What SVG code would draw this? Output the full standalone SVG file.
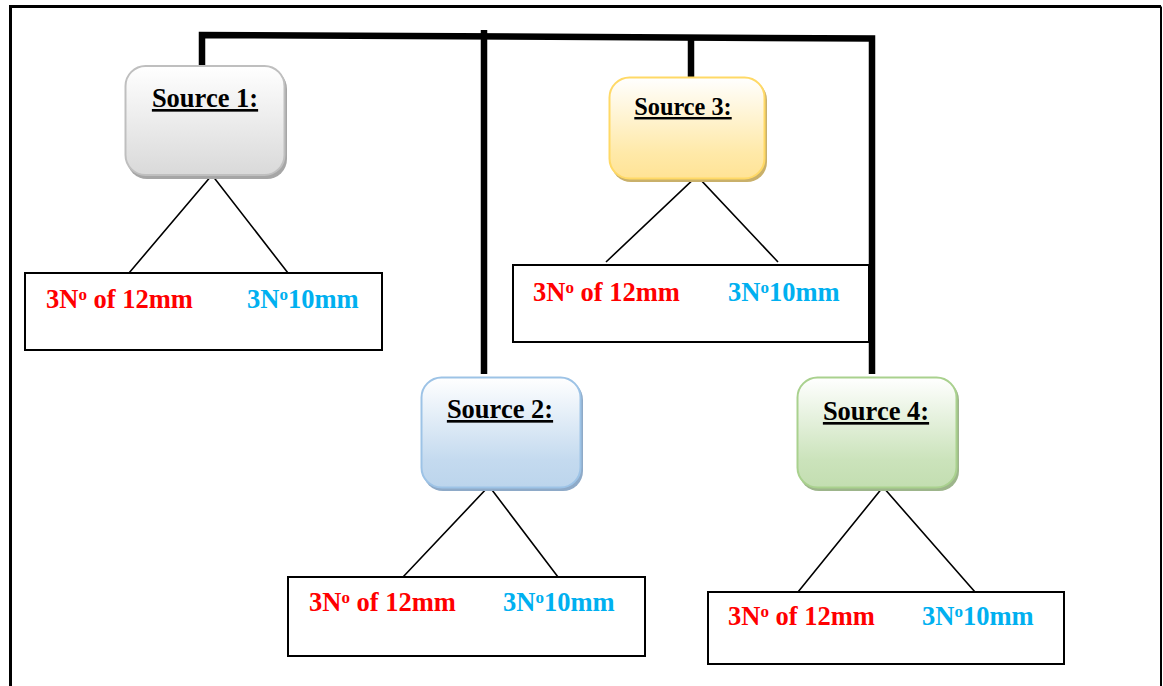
<svg xmlns="http://www.w3.org/2000/svg" width="1163" height="686" viewBox="0 0 1163 686">
  <defs>
    <linearGradient id="gGray" x1="0" y1="0" x2="0" y2="1">
      <stop offset="0" stop-color="#ffffff"/>
      <stop offset="1" stop-color="#d9d9d9"/>
    </linearGradient>
    <linearGradient id="gBlue" x1="0" y1="0" x2="0" y2="1">
      <stop offset="0" stop-color="#ffffff"/>
      <stop offset="0.75" stop-color="#c4daef"/>
      <stop offset="1" stop-color="#bcd5ec"/>
    </linearGradient>
    <linearGradient id="gYellow" x1="0" y1="0" x2="0" y2="1">
      <stop offset="0" stop-color="#ffffff"/>
      <stop offset="0.75" stop-color="#ffe9a8"/>
      <stop offset="1" stop-color="#ffe396"/>
    </linearGradient>
    <linearGradient id="gGreen" x1="0" y1="0" x2="0" y2="1">
      <stop offset="0" stop-color="#ffffff"/>
      <stop offset="0.75" stop-color="#cbe3bb"/>
      <stop offset="1" stop-color="#c3deb1"/>
    </linearGradient>
  </defs>
  <style>
    .frame { fill: none; stroke: #000; }
    .bus { fill: none; stroke: #000; stroke-width: 6.5; stroke-linejoin: miter; }
    .leg { fill: none; stroke: #000; stroke-width: 1.6; }
    .out { fill: #fff; stroke: #000; stroke-width: 2; }
    .title { font-family: "Liberation Serif", "Times New Roman", serif; font-weight: bold; font-size: 26.5px; fill: #000; text-decoration: underline; text-anchor: middle; }
    .qty { font-family: "Liberation Serif", "Times New Roman", serif; font-weight: bold; font-size: 26.5px; }
    .red { fill: #ff0000; }
    .cyan { fill: #00b0f0; }
    .sup { font-size: 17px; }
  </style>

  <!-- page frame -->
  <g id="frame">
    <path class="frame" stroke-width="3" d="M10.5 700 V6.5 H1161"/>
    <path class="frame" stroke-width="2" d="M1161 6.5 V700"/>
  </g>

  <!-- bus bars and legs -->
  <g id="connectors">
    <path class="bus" d="M202 66 V35 L872 38.5 V374"/>
    <path class="bus" d="M484 30 V374"/>
    <path class="bus" d="M691 37 V79"/>
    <path class="leg" d="M129 273 L212 175 L288 273"/>
    <path class="leg" d="M403 577 L489 486 L558 577"/>
    <path class="leg" d="M606 262 L697 176 L778 262"/>
    <path class="leg" d="M798 592 L883 487 L975 592"/>
  </g>

  <!-- Source 1 -->
  <g id="source1">
    <rect x="127" y="69" width="160" height="110" rx="20" fill="#a6a6a6"/>
    <rect x="125.5" y="66" width="159" height="109" rx="20" fill="url(#gGray)" stroke="#bfbfbf" stroke-width="2"/>
    <text class="title" x="205" y="107">Source 1:</text>
  </g>
  <g id="out1">
    <rect class="out" x="25" y="273" width="357" height="77"/>
    <text class="qty red" x="46" y="308">3N<tspan class="sup" dy="-8">o</tspan><tspan dy="8"> of 12mm</tspan></text>
    <text class="qty cyan" x="247" y="308">3N<tspan class="sup" dy="-8">o</tspan><tspan dy="8">10mm</tspan></text>
  </g>

  <!-- Source 2 -->
  <g id="source2">
    <rect x="423" y="380" width="160" height="111" rx="20" fill="#8eaac8"/>
    <rect x="421.5" y="377.5" width="159" height="110" rx="20" fill="url(#gBlue)" stroke="#9dc3e6" stroke-width="2"/>
    <text class="title" x="500" y="418">Source 2:</text>
  </g>
  <g id="out2">
    <rect class="out" x="288" y="577" width="357" height="79"/>
    <text class="qty red" x="309" y="611">3N<tspan class="sup" dy="-8">o</tspan><tspan dy="8"> of 12mm</tspan></text>
    <text class="qty cyan" x="503" y="611">3N<tspan class="sup" dy="-8">o</tspan><tspan dy="8">10mm</tspan></text>
  </g>

  <!-- Source 3 -->
  <g id="source3">
    <rect x="611" y="80" width="156" height="102" rx="20" fill="#c9b06a"/>
    <rect x="609.5" y="77.5" width="155" height="101" rx="20" fill="url(#gYellow)" stroke="#ffd966" stroke-width="2"/>
    <text class="title" x="683" y="115" style="font-size:24.3px">Source 3:</text>
  </g>
  <g id="out3">
    <rect class="out" x="513" y="265" width="356" height="77"/>
    <text class="qty red" x="533" y="301">3N<tspan class="sup" dy="-8">o</tspan><tspan dy="8"> of 12mm</tspan></text>
    <text class="qty cyan" x="728" y="301">3N<tspan class="sup" dy="-8">o</tspan><tspan dy="8">10mm</tspan></text>
  </g>

  <!-- Source 4 -->
  <g id="source4">
    <rect x="799" y="380" width="160" height="111" rx="20" fill="#9db58b"/>
    <rect x="797.5" y="377.5" width="159" height="110" rx="20" fill="url(#gGreen)" stroke="#a9d18e" stroke-width="2"/>
    <text class="title" x="876" y="420">Source 4:</text>
  </g>
  <g id="out4">
    <rect class="out" x="708" y="592" width="356" height="72"/>
    <text class="qty red" x="728" y="625">3N<tspan class="sup" dy="-8">o</tspan><tspan dy="8"> of 12mm</tspan></text>
    <text class="qty cyan" x="922" y="625">3N<tspan class="sup" dy="-8">o</tspan><tspan dy="8">10mm</tspan></text>
  </g>
</svg>
